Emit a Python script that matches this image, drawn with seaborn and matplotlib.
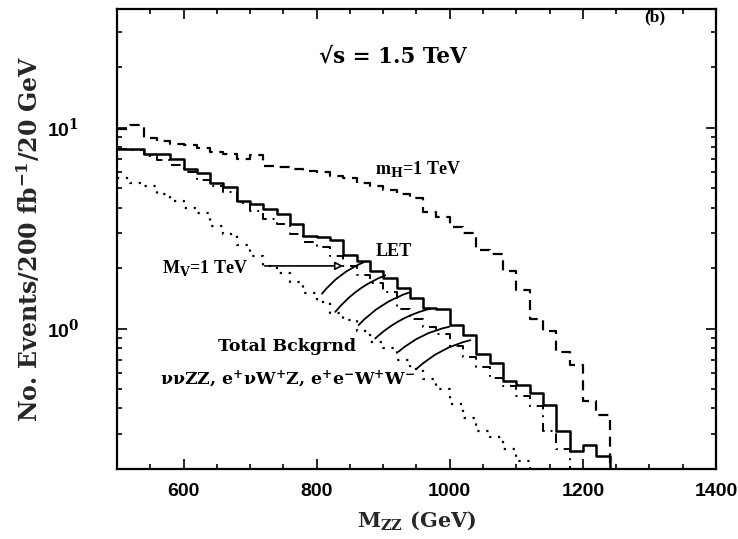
import matplotlib
matplotlib.use("Agg")
import matplotlib.pyplot as plt
from matplotlib.ticker import MultipleLocator, NullFormatter, LogLocator
import pandas as pd
import seaborn as sns

# ---- data: events per 20 GeV bin, 200 fb^-1, sqrt(s) = 1.5 TeV ----
bin_width = 20
mass_bins = list(range(500, 1260, 20))  # lower bin edges (GeV)

higgs_1tev = [9.9, 10.3, 8.9, 8.6, 8.3, 8.2, 7.9, 7.6, 7.4, 7.0,
              7.3, 6.45, 6.4, 6.25, 6.1, 6.05, 5.75, 5.6, 5.3, 5.1,
              4.9, 4.7, 4.45, 3.8, 3.6, 3.2, 3.0, 2.45, 2.35, 1.94,
              1.55, 1.12, 0.97, 0.76, 0.66, 0.435, 0.37, 0.15]

let_signal = [7.87, 7.87, 7.43, 7.43, 6.95, 6.2, 5.96, 5.32, 5.09, 4.3,
              4.15, 3.93, 3.71, 3.31, 2.9, 2.86, 2.75, 2.32, 2.18, 1.94,
              1.78, 1.6, 1.42, 1.27, 1.25, 1.04, 0.93, 0.75, 0.67, 0.545,
              0.524, 0.477, 0.417, 0.308, 0.245, 0.262, 0.232, 0.15]

vector_1tev = [7.8, 7.7, 7.2, 6.9, 6.5, 6.0, 5.5, 5.1, 4.8, 4.2,
               3.85, 3.5, 3.3, 2.95, 2.7, 2.54, 2.3, 2.05, 1.84, 1.68,
               1.52, 1.25, 1.12, 1.02, 0.94, 0.82, 0.72, 0.64, 0.57, 0.52,
               0.46, 0.41, 0.31, 0.25, 0.15]

background = [5.6, 5.3, 5.1, 4.7, 4.3, 4.0, 3.75, 3.25, 2.95, 2.6,
              2.3, 2.05, 1.9, 1.7, 1.5, 1.35, 1.2, 1.1, 0.97, 0.86,
              0.8, 0.7, 0.63, 0.56, 0.5, 0.42, 0.36, 0.31, 0.29, 0.25,
              0.22, 0.19, 0.15]

# curved hatch strokes between background and signal
hatch_start_mass = [808, 828, 863, 888, 923, 951]
hatch_start_events = [1.49, 1.21, 1.04, 0.892, 0.767, 0.634]
hatch_end_mass = [871, 903, 941, 971, 999, 1031]
hatch_end_events = [2.14, 1.84, 1.52, 1.256, 1.02, 0.875]

x_ticks = [600, 800, 1000, 1200, 1400]
y_ticks = [1, 10]
y_tick_labels = [r"10$^{0}$", r"10$^{1}$"]

# ---- style ----
sns.set_theme(style="ticks")
plt.rcParams["font.family"] = ["DejaVu Serif"]
plt.rcParams["font.weight"] = "bold"
plt.rcParams["mathtext.fontset"] = "dejavuserif"
plt.rcParams["mathtext.default"] = "bf"

SERIF_NARROW = ["Liberation Serif", "DejaVu Serif"]
SANS_TICKS = ["Liberation Sans", "DejaVu Sans"]

fig = plt.figure(figsize=(7.38, 5.39), dpi=100)
ax = fig.add_axes([0.1585, 0.130, 0.8117, 0.8534])
ax.set_yscale("log")


def draw_hist(values, **style):
    lo = mass_bins[:len(values)]
    x = lo + [lo[-1] + bin_width]
    y = values + [values[-1]]
    df = pd.DataFrame({"mass": x, "events": y})
    sns.lineplot(data=df, x="mass", y="events", ax=ax, drawstyle="steps-post",
                 estimator=None, sort=False, color="black", **style)


draw_hist(higgs_1tev, linestyle=(0, (4.5, 3)), linewidth=1.6)
draw_hist(let_signal, linestyle="-", linewidth=1.8)
draw_hist(vector_1tev, linestyle=(0, (5, 3, 1, 3)), linewidth=1.4)
draw_hist(background, linestyle=(0, (1, 3)), linewidth=1.6)

for xs, ys, xe, ye in zip(hatch_start_mass, hatch_start_events,
                          hatch_end_mass, hatch_end_events):
    ax.annotate("", xy=(xe, ye), xytext=(xs, ys),
                arrowprops=dict(arrowstyle="-", color="black", lw=1.3,
                                connectionstyle="arc3,rad=-0.13",
                                shrinkA=0, shrinkB=0))

# arrow from the vector-resonance label
ax.annotate("", xy=(840, 2.05), xytext=(722, 2.05),
            arrowprops=dict(arrowstyle="-|>", fc="white", ec="black", lw=1.2,
                            mutation_scale=12, shrinkA=0, shrinkB=0))

txt = dict(color="black", fontweight="bold")
ax.text(568, 2.0, r"M$_{V}$=1 TeV", fontsize=13, va="center", ha="left",
        family=SERIF_NARROW, **txt)
ax.text(888, 2.42, "LET", fontsize=13, va="center", ha="left",
        family=SERIF_NARROW, **txt)
ax.text(888, 6.2, r"m$_{H}$=1 TeV", fontsize=13, va="center", ha="left",
        family=SERIF_NARROW, **txt)
ax.text(652, 0.815, "Total Bckgrnd", fontsize=12.5, va="center", ha="left", **txt)
ax.text(565, 0.56, r"$\nu\nu$ZZ, e$^{+}\nu$W$^{+}$Z, e$^{+}$e$^{-}$W$^{+}$W$^{-}$",
        fontsize=12.5, va="center", ha="left", **txt)
ax.text(0.461, 0.896, "√s = 1.5 TeV", transform=ax.transAxes, fontsize=15.5,
        ha="center", va="center", **txt)
ax.text(0.898, 0.982, "(b)", transform=ax.transAxes, fontsize=12.5,
        ha="center", va="center", family=SERIF_NARROW, **txt)

# ---- axes ----
ax.set_xlim(500, 1400)
ax.set_ylim(0.2, 39)
ax.set_xticks(x_ticks)
ax.xaxis.set_minor_locator(MultipleLocator(50))
ax.set_yticks(y_ticks, labels=y_tick_labels)
ax.yaxis.set_minor_locator(LogLocator(base=10, subs=range(2, 10)))
ax.yaxis.set_minor_formatter(NullFormatter())
ax.tick_params(which="both", direction="in", top=True, right=True,
               colors="black", width=1.2)
ax.tick_params(which="major", length=7)
ax.tick_params(which="minor", length=3.5)
ax.tick_params(axis="x", which="major", pad=10, labelsize=14)
ax.tick_params(axis="y", which="major", pad=27, labelsize=14)
for lab in ax.get_xticklabels() + ax.get_yticklabels():
    lab.set_fontweight("bold")
    lab.set_family(SANS_TICKS)
for side in ax.spines.values():
    side.set_linewidth(1.6)
    side.set_color("black")

ax.set_xlabel(r"M$_{ZZ}$ (GeV)", fontsize=15, fontweight="bold", labelpad=7)
ax.set_ylabel(r"No. Events/200 fb$^{-1}$/20 GeV", fontsize=17,
              fontweight="bold", labelpad=3)

fig.savefig("out.png", dpi=100, facecolor="white")
